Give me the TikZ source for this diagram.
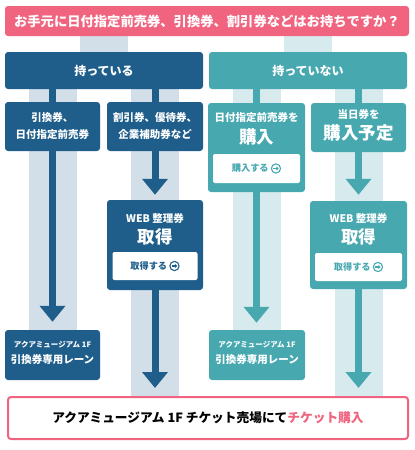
\documentclass[tikz,border=0pt]{standalone}
\usepackage{fontspec}
\setmainfont{Noto Sans CJK JP}
\usetikzlibrary{positioning,arrows.meta,backgrounds}
\definecolor{hdpink}{HTML}{F0647F}
\definecolor{navyc}{HTML}{1F5E8B}
\definecolor{tealc}{HTML}{47A8B0}
\definecolor{navyband}{HTML}{D2DFE9}
\definecolor{tealband}{HTML}{D7EBEF}
\newcommand\goicon{\tikz[baseline=-0.6ex]{\draw[line width=1.1pt] (0,0) circle (4.6pt);
  \draw[line width=1.1pt,-{Triangle[length=2.4pt,width=4pt]}] (-2.6pt,0) -- (2.8pt,0);}}

\begin{document}
\begin{tikzpicture}
[x=1pt, y=-1pt,
box/.style={rectangle, rounded corners=3pt, text=white, inner sep=0pt, font=\bfseries},
navybox/.style={box, fill=navyc},
tealbox/.style={box, fill=tealc},
small/.style={inner sep=0pt, text=white, align=center, font=\bfseries\fontsize{10.5}{17}\selectfont},
tiny/.style={inner sep=0pt, text=white, font=\bfseries\fontsize{7.5}{9}\selectfont},
big/.style={inner sep=0pt, text=white, font=\bfseries\fontsize{17.5}{20}\selectfont},
button/.style={rectangle, rounded corners=2pt, fill=white, minimum width=86pt, minimum height=28pt, font=\bfseries\fontsize{9.2}{10}\selectfont},
flow/.style={line width=7pt},
arrowline/.style={flow, -{Triangle[width=25pt,length=16pt]}},
]
\useasboundingbox (0,0) rectangle (415,450);

% question and the two answers
\node[box, fill=hdpink, minimum width=404pt, minimum height=30pt, font=\bfseries\fontsize{13.3}{15}\selectfont] (q) at (207,21) {お手元に日付指定前売券、引換券、割引券などはお持ちですか？};
\node[navybox, minimum width=198pt, minimum height=37pt, font=\bfseries\fontsize{12}{14}\selectfont] (have) at (104,70.5) {持っている};
\node[tealbox, minimum width=198pt, minimum height=37pt, font=\bfseries\fontsize{12}{14}\selectfont] (havenot) at (308,70.5) {持っていない};

% ticket kinds
\node[navybox, minimum width=95pt, minimum height=49pt, align=center, font=\bfseries\fontsize{10.5}{17}\selectfont] (b1) at (52.5,126.5) {引換券、\\日付指定前売券};
\node[navybox, minimum width=96pt, minimum height=49pt, align=center, font=\bfseries\fontsize{10.5}{17}\selectfont] (b2) at (155,126.5) {割引券、優待券、\\企業補助券など};
\node[tealbox, minimum width=97pt, minimum height=89pt] (b3) at (256.5,147.5) {};
\node[small] (b3a) [below=9pt of b3.north] {日付指定前売券を};
\node[big] (b3b) [below=6pt of b3a] {購入};
\node[button, text=tealc, minimum width=87pt, minimum height=29pt] (btn3) [above=9pt of b3.south] {購入する \goicon};
\node[tealbox, minimum width=95pt, minimum height=49pt] (b4) at (358.5,127.5) {};
\node[small] (b4a) [below=6pt of b4.north] {当日券を};
\node[big] (b4b) [below=5pt of b4a] {購入予定};

% web tickets
\node[navybox, minimum width=96pt, minimum height=90pt] (web2) at (155,245) {};
\node[small] (web2a) [below=13pt of web2.north] {WEB 整理券};
\node[big] (web2b) [below=5pt of web2a] {取得};
\node[button, text=navyc, minimum width=85pt] (btn2) [above=10pt of web2.south] {取得する \goicon};
\node[tealbox, minimum width=97pt, minimum height=88pt] (web4) at (358.5,245) {};
\node[small] (web4a) [below=12pt of web4.north] {WEB 整理券};
\node[big] (web4b) [below=5pt of web4a] {取得};
\node[button, text=tealc, minimum width=87pt] (btn4) [above=8pt of web4.south] {取得する \goicon};

% lanes and the counter
\node[navybox, minimum width=95pt, minimum height=50pt] (lane1) at (52.5,355) {};
\node[tiny] (lane1a) [below=11pt of lane1.north] {アクアミュージアム 1F};
\node[small] (lane1b) [below=6pt of lane1a] {引換券専用レーン};
\node[tealbox, minimum width=96pt, minimum height=50pt] (lane3) at (257,355) {};
\node[tiny] (lane3a) [below=11pt of lane3.north] {アクアミュージアム 1F};
\node[small] (lane3b) [below=6pt of lane3a] {引換券専用レーン};
\node[draw=hdpink, line width=2pt, rounded corners=3pt, fill=white, minimum width=400pt, minimum height=42pt, font=\bfseries\fontsize{12.7}{14}\selectfont] (shop) at (208,418) {アクアミュージアム 1F チケット売場にて\textcolor{hdpink}{チケット購入}};

\begin{scope}[on background layer]
\fill[navyband] ([xshift=-24pt]have.north |- q.south) rectangle ([xshift=24pt]have.north);
\fill[tealband] ([xshift=-24pt]havenot.north |- q.south) rectangle ([xshift=24pt]havenot.north);
\fill[navyband] ([xshift=-24pt]b1.north |- have.south) rectangle ([xshift=24pt]lane1.north);
\fill[navyband] ([xshift=-24pt]b2.north |- have.south) rectangle ([xshift=24pt]b2.north |- shop.north);
\fill[tealband] ([xshift=-24pt]b3.north |- havenot.south) rectangle ([xshift=24pt]b3.north |- lane3.north);
\fill[tealband] ([xshift=-24pt]b4.north |- havenot.south) rectangle ([xshift=24pt]b4.north |- shop.north);
\end{scope}

\draw[flow, navyc] (b1.north |- have.south) -- (b1.north);
\draw[flow, navyc] (b2.north |- have.south) -- (b2.north);
\draw[flow, tealc] (b3.north |- havenot.south) -- (b3.north);
\draw[flow, tealc] (b4.north |- havenot.south) -- (b4.north);
\draw[arrowline, navyc, shorten >=8pt] (b1) -- (lane1);
\draw[arrowline, navyc, shorten >=5pt] (b2) -- (web2);
\draw[arrowline, navyc, shorten >=8pt] (web2.south) -- (web2.south |- shop.north);
\draw[arrowline, tealc, shorten >=7pt] (b3.south) -- (b3.south |- lane3.north);
\draw[arrowline, tealc, shorten >=6pt] (b4) -- (web4);
\draw[arrowline, tealc, shorten >=8pt] (web4.south) -- (web4.south |- shop.north);
\end{tikzpicture}
\end{document}
